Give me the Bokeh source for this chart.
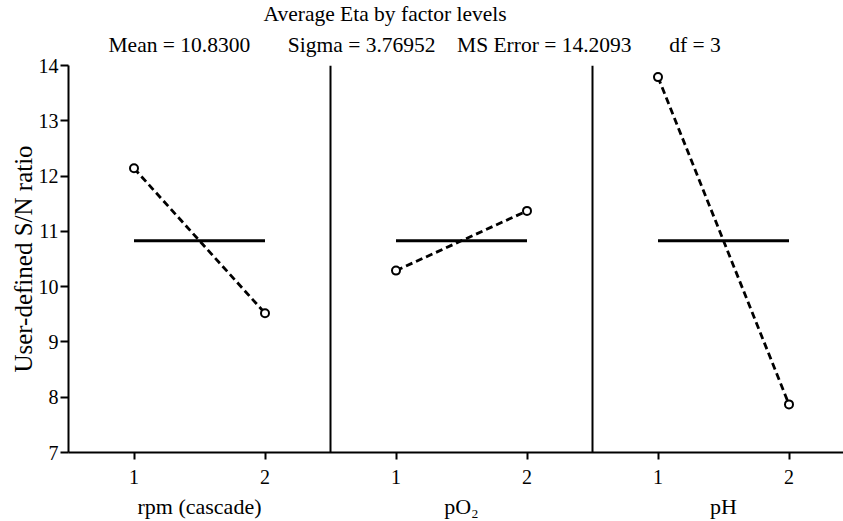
from bokeh.plotting import figure
from bokeh.models import FixedTicker, Range1d, Title, LinearAxis
from bokeh.embed import file_html
from bokeh.resources import INLINE

# ---- data ----
factors = ["rpm (cascade)", "pO\u2082", "pH"]
level_labels = ["1", "2"]
rpm_eta = [12.14, 9.52]
po2_eta = [10.29, 11.37]
ph_eta = [13.79, 7.87]
grand_mean = 10.83
title_text = "Average Eta by factor levels"
stats_text = ["Mean = 10.8300", "Sigma = 3.76952", "MS Error = 14.2093", "df = 3"]
y_label = "User-defined S/N ratio"
y_ticks = [7, 8, 9, 10, 11, 12, 13, 14]

series = [rpm_eta, po2_eta, ph_eta]
FONT = "Liberation Serif"
NB = "\u00a0"

p = figure(width=843, height=521, output_backend="svg", toolbar_location=None,
           x_range=Range1d(0.5, 6.416), y_range=Range1d(7, 14),
           min_border_left=68, min_border_right=0, min_border_top=65, min_border_bottom=65,
           title=None)
p.outline_line_color = None
p.xgrid.visible = False
p.ygrid.visible = False
p.background_fill_color = "white"
p.border_fill_color = "white"

# x positions: panel i, level j -> 2*i + j + 1
xs_all = []
for i, vals in enumerate(series):
    xs = [2 * i + j + 1 for j in range(len(vals))]
    xs_all += xs
    p.segment(x0=[xs[0]], y0=[grand_mean], x1=[xs[-1]], y1=[grand_mean],
              line_color="black", line_width=3)
    p.line(xs, vals, line_color="black", line_width=2.8, line_dash="7 4")
    p.scatter(xs, vals, marker="circle", size=8, fill_color="white",
              line_color="black", line_width=2)

# panel separators
seps = [2 * i + 2.5 for i in range(len(series) - 1)]
p.segment(x0=seps, y0=[y_ticks[0]] * len(seps), x1=seps, y1=[y_ticks[-1]] * len(seps),
          line_color="black", line_width=2)

# x axis (levels)
xa = p.xaxis[0]
xa.ticker = FixedTicker(ticks=xs_all)
xa.major_label_overrides = {x: level_labels[k % 2] for k, x in enumerate(xs_all)}
xa.minor_tick_line_color = None
xa.major_tick_in = 0
xa.major_tick_out = 7
xa.major_tick_line_width = 2
xa.axis_line_width = 2
xa.major_label_standoff = 10
xa.major_label_text_font = FONT
xa.major_label_text_font_size = "20px"
xa.major_label_text_color = "black"

# second axis below: factor names
centers = [2 * i + 1.5 for i in range(len(factors))]
fa = LinearAxis(ticker=FixedTicker(ticks=centers),
                major_label_overrides={c: n for c, n in zip(centers, factors)})
fa.axis_line_color = None
fa.major_tick_line_color = None
fa.minor_tick_line_color = None
fa.major_tick_out = 0
fa.major_tick_in = 0
fa.major_label_standoff = 7
fa.major_label_text_font = FONT
fa.major_label_text_font_size = "22px"
fa.major_label_text_color = "black"
p.add_layout(fa, "below")

# y axis
ya = p.yaxis[0]
ya.ticker = FixedTicker(ticks=y_ticks)
ya.minor_tick_line_color = None
ya.major_tick_in = 0
ya.major_tick_out = 8
ya.major_tick_line_width = 2
ya.axis_line_width = 2
ya.major_label_standoff = 2
ya.major_label_text_font = FONT
ya.major_label_text_font_size = "20px"
ya.major_label_text_color = "black"
ya.axis_label = y_label
ya.axis_label_text_font = FONT
ya.axis_label_text_font_size = "25px"
ya.axis_label_text_font_style = "normal"
ya.axis_label_text_color = "black"
ya.axis_label_standoff = -1

# title and statistics line (subtitle first: closest to the plot)
gaps = [NB * 7, NB * 4, NB * 7]
stat_line = stats_text[0]
for g, s in zip(gaps, stats_text[1:]):
    stat_line += g + s
stat_line = stat_line.replace(" ", NB)
p.add_layout(Title(text=stat_line, align="left", offset=40, text_font=FONT,
                   text_font_size="21.5px", text_font_style="normal",
                   text_color="black", standoff=17), "above")
p.add_layout(Title(text=title_text, align="left", offset=195, text_font=FONT,
                   text_font_size="21.5px", text_font_style="normal",
                   text_color="black", standoff=-6), "above")

open("out.html", "w").write(file_html(p, INLINE))
